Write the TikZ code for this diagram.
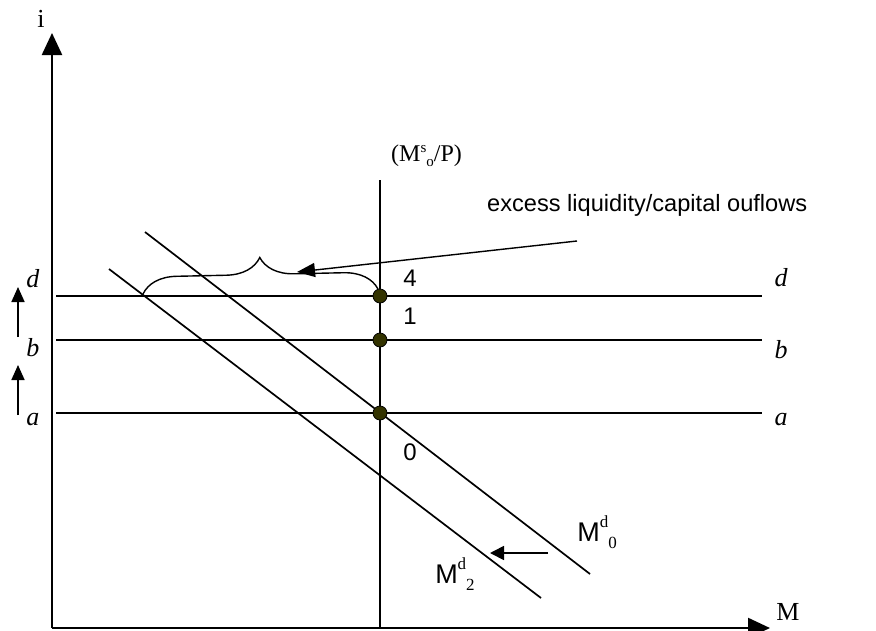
\documentclass[tikz,border=0pt]{standalone}
\usepackage{fontspec}
\setmainfont{Liberation Serif}
\newfontfamily\arialfont{Liberation Sans}
\usepackage{tikz}
\usetikzlibrary{arrows.meta,positioning,calc,decorations.pathreplacing}
\definecolor{dotolive}{RGB}{51,51,0}

\begin{document}
\begin{tikzpicture}[x=1pt,y=-1pt,>=Triangle,
   axis/.style={line width=2.4pt},
   curve/.style={line width=1.7pt},
   eqdot/.style={circle,draw=black,fill=dotolive,line width=0.8pt,inner sep=0pt,minimum size=14pt},
   serlab/.style={font=\fontsize{26}{26}\selectfont,inner sep=1pt},
   itlab/.style={font=\fontsize{26}{26}\selectfont\itshape,inner sep=1pt},
   sanslab/.style={font=\fontsize{24}{24}\selectfont\arialfont,inner sep=1pt},
   smallser/.style={font=\fontsize{17}{17}\selectfont}]
  \useasboundingbox (0,0) rectangle (876,630);
  % axes
  \coordinate (O) at (52,628);
  \coordinate (itop) at (52,33);
  \coordinate (Mend) at (770,628);
  \draw[axis,-{Triangle[length=22pt,width=20pt]}] (O) -- (itop);
  \draw[axis,-{Triangle[length=22pt,width=20pt]}] (O) -- (Mend);
  \node[serlab] (ilab) at (41,19) {i};
  \node[serlab] (Mlab) at (788,612) {M};
  % money supply
  \coordinate (Stop) at (380,180);
  \coordinate (Sbot) at (380,628);
  \draw[curve] (Sbot) -- (Stop);
  \node[serlab,anchor=west,font=\fontsize{24}{24}\selectfont] (Slab) at (390,156)
     {(M\raisebox{0.9ex}{\fontsize{15}{15}\selectfont s}\raisebox{-0.4ex}{\fontsize{15}{15}\selectfont o}/P)};
  % interest rate levels
  \foreach \nm/\yy/\ly/\ry in {d/296/279/278, b/340/348/350, a/413/420/420}{
    \coordinate (\nm L) at (56,\yy);
    \coordinate (\nm R) at (762,\yy);
    \draw[curve] (\nm L) -- (\nm R);
    \node[itlab] (\nm lab) at (33,\ly) {\nm};
    \node[itlab] (\nm rlab) at (781,\ry) {\nm};
  }
  \draw[line width=1.7pt,-{Triangle[length=15pt,width=13pt]}] (18,337) -- (18,287);
  \draw[line width=1.7pt,-{Triangle[length=15pt,width=13pt]}] (18,415) -- (18,365);
  % money demand
  \coordinate (D0a) at (145,232);
  \coordinate (D0b) at (590,574);
  \coordinate (D2a) at (109,269);
  \coordinate (D2b) at (541,598);
  \draw[curve] (D0a) -- (D0b);
  \draw[curve] (D2a) -- (D2b);
  \node[sanslab,font=\fontsize{27}{27}\selectfont\arialfont] (D0lab) at (597,532)
     {M\raisebox{1.0ex}{\rmfamily\fontsize{17}{17}\selectfont d}\raisebox{-0.5ex}{\rmfamily\fontsize{17}{17}\selectfont 0}};
  \node[sanslab,font=\fontsize{27}{27}\selectfont\arialfont] (D2lab) at (455,574)
     {M\raisebox{1.0ex}{\rmfamily\fontsize{17}{17}\selectfont d}\raisebox{-0.5ex}{\rmfamily\fontsize{17}{17}\selectfont 2}};
  \coordinate (shiftA) at (548,553);
  \coordinate (shiftB) at (490,553);
  \draw[line width=1.7pt,-{Triangle[length=14pt,width=14pt]}] (shiftA) -- (shiftB);
  % equilibria
  \node[eqdot] (E4) at (380,296) {};
  \node[eqdot] (E1) at (380,340) {};
  \node[eqdot] (E0) at (380,413) {};
  \node[sanslab] (n4) at (410,278) {4};
  \node[sanslab] (n1) at (410,316) {1};
  \node[sanslab] (n0) at (410,452) {0};
  % excess liquidity
  \coordinate (brL) at (143,294);
  \coordinate (brR) at (378,289);
  \draw[line width=1.4pt,decorate,decoration={brace,amplitude=34pt,aspect=0.5}] (brL) -- (brR);
  \node[sanslab,anchor=west,font=\fontsize{23.6}{24}\selectfont\arialfont] (xslab) at (486,205) {excess liquidity/capital ouflows};
  \coordinate (ptrA) at (577,241);
  \coordinate (ptrB) at (297,272);
  \draw[line width=1.4pt,-{Triangle[length=18pt,width=14pt]}] (ptrA) -- (ptrB);
\end{tikzpicture}
\end{document}
